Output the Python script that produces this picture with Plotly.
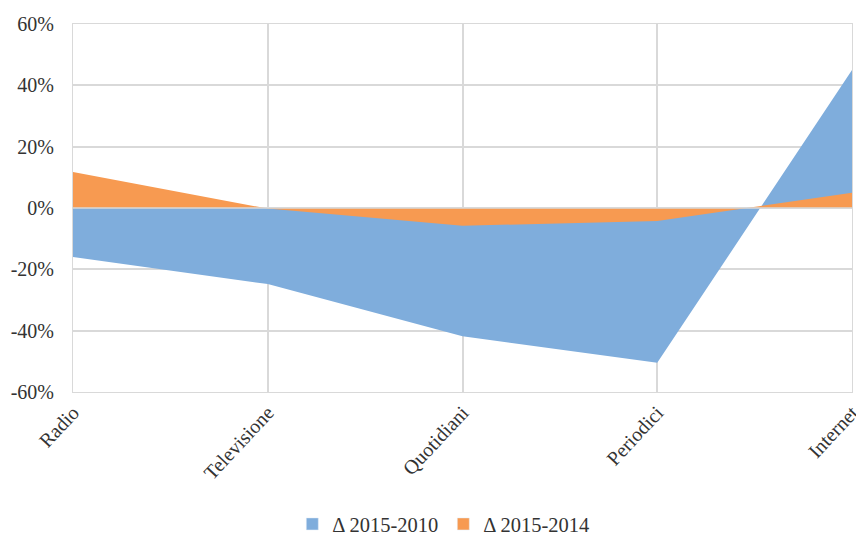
import plotly.graph_objects as go

categories = ["Radio", "Televisione", "Quotidiani", "Periodici", "Internet"]
delta_2015_2010 = [-16.0, -24.8, -41.8, -50.5, 45.0]
delta_2015_2014 = [11.7, -0.2, -5.8, -4.2, 5.0]
series_names = ["Δ 2015-2010", "Δ 2015-2014"]
y_ticks = [-60, -40, -20, 0, 20, 40, 60]
y_tick_labels = ["-60%", "-40%", "-20%", "0%", "20%", "40%", "60%"]

blue = "#7faddc"
orange = "#f79a51"
grid = "#d9d9d9"
font = "Liberation Serif"

fig = go.Figure()
for name, vals, col in [(series_names[0], delta_2015_2010, blue),
                        (series_names[1], delta_2015_2014, orange)]:
    fig.add_trace(go.Scatter(
        x=categories, y=vals, name=name, mode="none",
        fill="tozeroy", fillcolor=col, showlegend=False, legendgroup=name,
        hoverinfo="skip",
    ))
# legend entries (square swatches)
for name, col in [(series_names[0], blue), (series_names[1], orange)]:
    fig.add_trace(go.Bar(x=[None], y=[None], name=name, marker_color=col,
                         legendgroup=name, showlegend=True))

fig.add_shape(type="line", xref="paper", yref="y", x0=0, x1=1, y0=0, y1=0,
              line=dict(color=grid, width=1.5), layer="above")

fig.update_layout(
    width=856, height=536,
    margin=dict(l=73, r=4, t=24, b=144, autoexpand=False),
    paper_bgcolor="white", plot_bgcolor="white",
    font=dict(family=font, size=20, color="#333333"),
    showlegend=True,
    legend=dict(orientation="h", x=0.476, xanchor="center", xref="paper",
                y=-0.359, yanchor="middle", font=dict(size=20.5),
                itemwidth=30, traceorder="normal", itemclick=False),
)
fig.update_xaxes(
    type="category", range=[0, len(categories) - 1], automargin=False,
    showgrid=True, gridcolor=grid, gridwidth=1.5,
    tickangle=-47, ticks="", showline=True, linecolor=grid, mirror=True,
    tickfont=dict(size=20),
)
fig.update_yaxes(
    range=[-60, 60], tickvals=y_ticks, ticktext=y_tick_labels, automargin=False,
    showgrid=True, gridcolor=grid, gridwidth=1.5, zeroline=False,
    showline=True, linecolor=grid, mirror=True, ticks="",
    tickfont=dict(size=20), ticklabelstandoff=14,
)

fig.write_html("out.html", config={"displayModeBar": False},
               post_script="document.body.style.margin='0';document.body.style.overflow='hidden';")
